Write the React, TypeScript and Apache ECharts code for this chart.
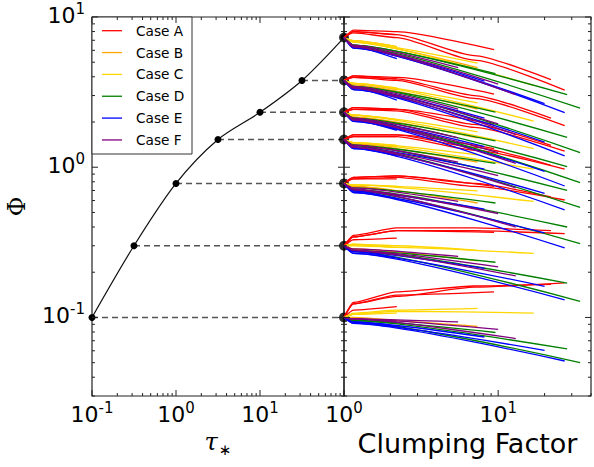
import React, { useEffect, useRef } from 'react';
import * as echarts from 'echarts';

// Left panel: tau_* vs Phi (black curve with points)
const tauValues = [0.1, 0.316, 1, 3.16, 10, 31.6, 100];
const phiValues = [0.1, 0.3, 0.78, 1.53, 2.32, 3.78, 7.3];

// Starting Phi of each fan in the right panel (top to bottom)
const phiStart = [7.3, 3.78, 2.32, 1.53, 0.78, 0.3, 0.1];

// Right panel lines: per case, per fan (same order as phiStart), lines of [clumping, Phi]
const caseA = [
  [[[1.15, 8.19], [2.2, 8.0], [9.4, 6.07]], [[1.15, 8.0], [2.2, 7.64], [7, 5.54], [22, 3.83]], [[1.15, 7.83], [2.2, 7.3], [7, 5.17], [27, 3.26]], [[1.15, 8.0], [2.2, 7.64]]],
  [[[1.15, 4.05], [2.2, 3.96], [9.4, 3.07]], [[1.15, 4.05], [2.2, 3.87], [7, 3.0], [22, 2.12]], [[1.15, 3.96], [2.2, 3.78], [7, 2.87], [27, 1.89]], [[1.15, 3.96], [2.2, 3.87]]],
  [[[1.15, 2.49], [2.2, 2.43], [9.4, 1.93]], [[1.15, 2.49], [2.2, 2.43], [7, 1.93], [22, 1.4]], [[1.15, 2.43], [2.2, 2.37], [7, 1.84], [27, 1.28]], [[1.15, 2.43], [2.2, 2.43]]],
  [[[1.15, 1.64], [2.2, 1.64], [9.4, 1.33]], [[1.15, 1.64], [2.2, 1.64], [7, 1.36], [22, 1.03]], [[1.15, 1.6], [2.2, 1.6], [7, 1.3], [27, 0.97]], [[1.15, 1.6], [2.2, 1.6]]],
  [[[1.15, 0.855], [2.2, 0.875], [9.4, 0.745]], [[1.15, 0.855], [2.2, 0.875], [7, 0.78], [22, 0.634]], [[1.15, 0.836], [2.2, 0.855], [7, 0.745], [27, 0.605]], [[1.15, 0.836], [2.2, 0.836]]],
  [[[1.15, 0.344], [2.2, 0.378], [9.4, 0.369]], [[1.15, 0.352], [2.2, 0.395], [7, 0.395], [22, 0.378]], [[1.15, 0.344], [2.2, 0.378], [7, 0.378], [27, 0.361]], [[1.15, 0.329], [2.2, 0.337]]],
  [[[1.15, 0.123], [2.2, 0.141], [9.4, 0.148]], [[1.15, 0.126], [2.2, 0.148], [7, 0.162], [22, 0.166]], [[1.15, 0.123], [2.2, 0.138], [7, 0.159], [27, 0.17]], [[1.15, 0.112], [2.2, 0.118]]],
];
const caseB = [
  [[[1.15, 6.97], [2.2, 6.36]], [[1.15, 6.81], [7.35, 4.61]]],
  [[[1.15, 3.61], [2.2, 3.29]], [[1.15, 3.53], [7.35, 2.44]]],
  [[[1.15, 2.22], [2.2, 2.07]], [[1.15, 2.16], [7.35, 1.57]]],
  [[[1.15, 1.46], [2.2, 1.36]], [[1.15, 1.43], [7.35, 1.08]]],
  [[[1.15, 0.745], [2.2, 0.695]], [[1.15, 0.745], [7.35, 0.578]]],
  [[[1.15, 0.286], [2.2, 0.274]], [[1.15, 0.286], [7.35, 0.238]]],
  [[[1.15, 0.1], [2.2, 0.0955]], [[1.15, 0.0977], [7.35, 0.0871]]],
];
const caseC = [
  [[[1.15, 6.81], [7.35, 4.93]], [[1.15, 6.81], [17, 3.5]], [[1.15, 6.97], [2.2, 6.36]]],
  [[[1.15, 3.61], [7.35, 2.68]], [[1.15, 3.61], [17, 2.03]], [[1.15, 3.61], [2.2, 3.37]]],
  [[[1.15, 2.22], [7.35, 1.72]], [[1.15, 2.22], [17, 1.33]], [[1.15, 2.22], [2.2, 2.07]]],
  [[[1.15, 1.46], [7.35, 1.21]], [[1.15, 1.46], [17, 0.97]], [[1.15, 1.46], [2.2, 1.4]]],
  [[[1.15, 0.762], [7.35, 0.695]], [[1.15, 0.762], [17, 0.592]], [[1.15, 0.762], [2.2, 0.745]]],
  [[[1.15, 0.307], [2.2, 0.3], [7.35, 0.28]], [[1.15, 0.307], [2.2, 0.293], [17, 0.267]], [[1.15, 0.3], [2.2, 0.293]]],
  [[[1.15, 0.107], [2.2, 0.112], [7.35, 0.115]], [[1.15, 0.105], [2.2, 0.11], [17, 0.107]], [[1.15, 0.105], [2.2, 0.107]]],
];
const caseD = [
  [[[1.15, 6.36], [34, 2.47]], [[1.15, 6.5], [28, 3.04]], [[1.15, 6.5], [9.6, 4.2]], [[1.15, 6.5], [2.2, 5.66]]],
  [[[1.15, 3.37], [34, 1.25]], [[1.15, 3.45], [28, 1.58]], [[1.15, 3.45], [9.6, 2.33]], [[1.15, 3.45], [2.2, 3.0]]],
  [[[1.15, 2.07], [34, 0.79]], [[1.15, 2.12], [28, 1.01]], [[1.15, 2.12], [9.6, 1.5]], [[1.15, 2.12], [2.2, 1.89]]],
  [[[1.15, 1.36], [34, 0.54]], [[1.15, 1.4], [28, 0.7]], [[1.15, 1.4], [9.6, 1.06]], [[1.15, 1.4], [2.2, 1.24]]],
  [[[1.15, 0.695], [34, 0.31]], [[1.15, 0.711], [28, 0.4]], [[1.15, 0.728], [9.6, 0.578]], [[1.15, 0.711], [2.2, 0.649]]],
  [[[1.15, 0.274], [34, 0.128]], [[1.15, 0.28], [28, 0.169]], [[1.15, 0.28], [9.6, 0.233]], [[1.15, 0.28], [2.2, 0.261]]],
  [[[1.15, 0.0933], [34, 0.0501]], [[1.15, 0.0955], [28, 0.0617]], [[1.15, 0.0955], [9.6, 0.0794]], [[1.15, 0.0955], [2.2, 0.0912]]],
];
const caseE = [
  [[[1.15, 6.21], [27, 2.31]], [[1.15, 6.21], [20, 2.65]], [[1.15, 6.36], [8.15, 3.74]], [[1.15, 6.36], [2.2, 5.28]]],
  [[[1.15, 3.29], [27, 1.19]], [[1.15, 3.29], [20, 1.47]], [[1.15, 3.37], [8.15, 2.12]], [[1.15, 3.37], [2.2, 2.8]]],
  [[[1.15, 2.02], [27, 0.75]], [[1.15, 2.02], [20, 0.94]], [[1.15, 2.07], [8.15, 1.37]], [[1.15, 2.07], [2.2, 1.76]]],
  [[[1.15, 1.33], [27, 0.52]], [[1.15, 1.33], [20, 0.67]], [[1.15, 1.36], [8.15, 0.97]], [[1.15, 1.36], [2.2, 1.19]]],
  [[[1.15, 0.679], [27, 0.29]], [[1.15, 0.679], [20, 0.365]], [[1.15, 0.695], [8.15, 0.527]], [[1.15, 0.695], [2.2, 0.619]]],
  [[[1.15, 0.267], [27, 0.131]], [[1.15, 0.267], [20, 0.161]], [[1.15, 0.274], [8.15, 0.212]], [[1.15, 0.274], [2.2, 0.25]]],
  [[[1.15, 0.0912], [27, 0.0513]], [[1.15, 0.0912], [20, 0.0603]], [[1.15, 0.0933], [8.15, 0.0741]], [[1.15, 0.0933], [2.2, 0.0871]]],
];
const caseF = [
  [[[1.15, 6.36], [13, 3.04]], [[1.15, 6.36], [10, 3.58]], [[1.15, 6.5], [5.5, 4.61]], [[1.15, 6.36], [2.2, 5.54]]],
  [[[1.15, 3.37], [13, 1.65]], [[1.15, 3.37], [10, 1.94]], [[1.15, 3.45], [5.5, 2.44]], [[1.15, 3.37], [2.2, 2.93]]],
  [[[1.15, 2.07], [13, 1.06]], [[1.15, 2.07], [10, 1.25]], [[1.15, 2.12], [5.5, 1.57]], [[1.15, 2.07], [2.2, 1.84]]],
  [[[1.15, 1.36], [13, 0.73]], [[1.15, 1.36], [10, 0.88]], [[1.15, 1.4], [5.5, 1.08]], [[1.15, 1.36], [2.2, 1.24]]],
  [[[1.15, 0.711], [13, 0.4]], [[1.15, 0.711], [10, 0.492]], [[1.15, 0.728], [5.5, 0.592]], [[1.15, 0.711], [2.2, 0.649]]],
  [[[1.15, 0.28], [13, 0.189]], [[1.15, 0.28], [10, 0.217]], [[1.15, 0.286], [5.5, 0.255]], [[1.15, 0.28], [2.2, 0.261]]],
  [[[1.15, 0.0977], [13, 0.0724]], [[1.15, 0.0977], [10, 0.0832]], [[1.15, 0.0977], [5.5, 0.0933]], [[1.15, 0.0977], [2.2, 0.0933]]],
];

const caseNames = ['Case A', 'Case B', 'Case C', 'Case D', 'Case E', 'Case F'];
const caseColors = ['#ff0000', '#ffa500', '#ffd700', '#008000', '#0000ff', '#800080'];
const caseData = [caseA, caseB, caseC, caseD, caseE, caseF];

// Axis ranges
const leftXRange = [0.1, 100];
const rightXRange = [1, 40];
const yRange = [0.03, 10];

const FONT = 'DejaVu Sans';

function logTicks(lo: number, hi: number) {
  const out: { v: number; major: boolean }[] = [];
  const e0 = Math.floor(Math.log10(lo)) - 1;
  const e1 = Math.ceil(Math.log10(hi)) + 1;
  for (let e = e0; e <= e1; e++) {
    for (let m = 1; m <= 9; m++) {
      const v = m * Math.pow(10, e);
      if (v >= lo * 0.9999 && v <= hi * 1.0001) out.push({ v, major: m === 1 });
    }
  }
  return out;
}

function buildTicks(xr: number[], yr: number[], yAnchor: number, xAnchor: number) {
  const data: number[][] = [];
  const MAJ = 6;
  const MIN = 3;
  logTicks(xr[0], xr[1]).forEach((t) => {
    data.push([t.v, yAnchor, 0, t.major ? MAJ : MIN]);
    data.push([t.v, yAnchor, 1, t.major ? MAJ : MIN]);
  });
  logTicks(yr[0], yr[1]).forEach((t) => {
    data.push([xAnchor, t.v, 2, t.major ? MAJ : MIN]);
    data.push([xAnchor, t.v, 3, t.major ? MAJ : MIN]);
  });
  return data;
}

const tickRender = (params: any, api: any) => {
  const cs = params.coordSys;
  const p = api.coord([api.value(0), api.value(1)]);
  const side = api.value(2);
  const len = api.value(3);
  let x1 = 0, y1 = 0, x2 = 0, y2 = 0;
  const bottom = cs.y + cs.height;
  const right = cs.x + cs.width;
  if (side === 0) { x1 = x2 = p[0]; y1 = bottom; y2 = bottom - len; }
  else if (side === 1) { x1 = x2 = p[0]; y1 = cs.y; y2 = cs.y + len; }
  else if (side === 2) { y1 = y2 = p[1]; x1 = cs.x; x2 = cs.x + len; }
  else { y1 = y2 = p[1]; x1 = right; x2 = right - len; }
  return { type: 'line', shape: { x1, y1, x2, y2 }, style: { stroke: '#222', lineWidth: 1 } };
};

const powRich = {
  b: { fontSize: 22, lineHeight: 22, verticalAlign: 'bottom', fontFamily: FONT, color: '#000' },
  s: { fontSize: 15, lineHeight: 16, padding: [0, 0, 10, 0], verticalAlign: 'bottom', fontFamily: FONT, color: '#000' },
};

const powFormatter = (maxShown: number) => (v: number) => {
  const e = Math.log10(v);
  const r = Math.round(e);
  if (Math.abs(e - r) > 1e-6) return '';
  if (v > maxShown * 1.0001) return '';
  return `{b|10}{s|${r}}`;
};

function buildOption() {
  const series: any[] = [];

  // dashed guide lines
  tauValues.forEach((t, i) => {
    series.push({
      type: 'line', xAxisIndex: 0, yAxisIndex: 0, silent: true, z: 1,
      data: [[t, phiValues[i]], [leftXRange[1], phiValues[i]]],
      symbol: 'none',
      lineStyle: { color: '#555', width: 1.5, type: [6, 4] },
    });
  });

  // black curve with points
  series.push({
    type: 'line', xAxisIndex: 0, yAxisIndex: 0, silent: true, z: 3,
    data: tauValues.map((t, i) => [t, phiValues[i]]),
    smooth: 0.3,
    symbol: 'circle', symbolSize: 7, showSymbol: true, clip: false,
    itemStyle: { color: '#000' },
    lineStyle: { color: '#111', width: 1.2 },
  });

  // start points in the right panel
  series.push({
    type: 'scatter', xAxisIndex: 1, yAxisIndex: 1, silent: true, z: 2, clip: false,
    data: phiStart.map((p) => [rightXRange[0], p]),
    symbolSize: 10,
    itemStyle: { color: '#000' },
  });

  // case lines
  caseData.forEach((cd, ci) => {
    cd.forEach((groupLines: any[], g: number) => {
      groupLines.forEach((line: number[][]) => {
        series.push({
          type: 'line', name: caseNames[ci], xAxisIndex: 1, yAxisIndex: 1, silent: true, z: 4,
          data: [[rightXRange[0], phiStart[g]], ...line],
          smooth: 0.2, smoothMonotone: 'x',
          symbol: 'none', showSymbol: false,
          lineStyle: { color: caseColors[ci], width: 1.3 },
        });
      });
    });
  });

  // ticks
  series.push({
    type: 'custom', xAxisIndex: 0, yAxisIndex: 0, silent: true, clip: false, z: 10,
    dimensions: ['x', 'y', 'side', 'len'], encode: { x: 0, y: 1 },
    data: buildTicks(leftXRange, yRange, 1, 1),
    renderItem: tickRender,
  });
  series.push({
    type: 'custom', xAxisIndex: 1, yAxisIndex: 1, silent: true, clip: false, z: 10,
    dimensions: ['x', 'y', 'side', 'len'], encode: { x: 0, y: 1 },
    data: buildTicks(rightXRange, yRange, 1, 2),
    renderItem: tickRender,
  });

  // legend (matplotlib style box)
  const legendChildren: any[] = [
    { type: 'rect', shape: { x: 92, y: 17, width: 100, height: 137 }, style: { fill: '#fff', stroke: '#333', lineWidth: 1 } },
  ];
  caseNames.forEach((n, i) => {
    const ry = 30.7 + i * 21.85;
    legendChildren.push({ type: 'line', shape: { x1: 102, y1: ry, x2: 122, y2: ry }, style: { stroke: caseColors[i], lineWidth: 1.3 } });
    legendChildren.push({
      type: 'text', x: 136, y: ry,
      style: { text: n, fill: '#000', font: `13.7px "${FONT}"`, textAlign: 'left', align: 'left', textVerticalAlign: 'middle', verticalAlign: 'middle' },
    });
  });

  const axisCommon = {
    type: 'log', logBase: 10,
    axisLine: { show: false }, axisTick: { show: false }, splitLine: { show: false }, minorTick: { show: false },
  };

  return {
    animation: false,
    backgroundColor: '#fff',
    grid: [
      { left: 92, top: 17, width: 252, height: 379, show: true, borderColor: '#222', borderWidth: 1.2, backgroundColor: 'transparent' },
      { left: 344, top: 17, width: 251, height: 379, show: true, borderColor: '#222', borderWidth: 1.2, backgroundColor: 'transparent' },
    ],
    xAxis: [
      {
        ...axisCommon, gridIndex: 0, min: leftXRange[0], max: leftXRange[1],
        axisLabel: { formatter: powFormatter(10), rich: powRich, margin: 7 },
        name: '{t|τ}{s|∗}', nameLocation: 'middle', nameGap: 34,
        nameTextStyle: {
          rich: {
            t: { fontSize: 24, lineHeight: 24, fontStyle: 'italic', fontFamily: 'DejaVu Serif', color: '#000', verticalAlign: 'top' },
            s: { fontSize: 15, lineHeight: 15, padding: [12, 0, 0, 1], fontFamily: FONT, color: '#000', verticalAlign: 'top' },
          },
        },
      },
      {
        ...axisCommon, gridIndex: 1, min: rightXRange[0], max: rightXRange[1],
        axisLabel: { formatter: powFormatter(10), rich: powRich, margin: 7 },
        name: 'Clumping Factor', nameLocation: 'middle', nameGap: 30,
        nameTextStyle: { fontSize: 27, fontFamily: FONT, color: '#000' },
      },
    ],
    yAxis: [
      {
        ...axisCommon, gridIndex: 0, min: yRange[0], max: yRange[1],
        axisLabel: { formatter: powFormatter(10), rich: powRich, margin: 7, padding: [0, 0, 4, 0] },
        name: 'Φ', nameLocation: 'middle', nameRotate: 90, nameGap: 63,
        nameTextStyle: { fontSize: 24, fontFamily: 'DejaVu Serif', color: '#000' },
      },
      {
        ...axisCommon, gridIndex: 1, min: yRange[0], max: yRange[1],
        axisLabel: { show: false },
      },
    ],
    series,
    graphic: [{ type: 'group', z: 100, children: legendChildren }],
  };
}

export default function App() {
  const ref = useRef<HTMLDivElement>(null);
  useEffect(() => {
    const chart = echarts.init(ref.current as HTMLDivElement, null, { renderer: 'svg' });
    chart.setOption(buildOption() as any);
    return () => chart.dispose();
  }, []);
  return (
    <div
      ref={ref}
      style={{ position: 'fixed', left: 0, top: 0, width: 594, height: 467, background: '#fff' }}
    />
  );
}
